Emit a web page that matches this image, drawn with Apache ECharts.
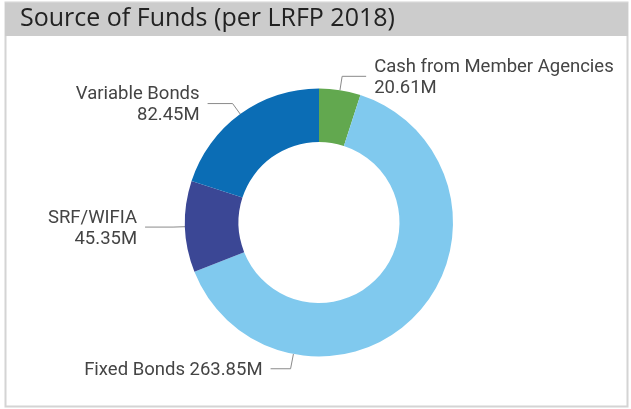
<!DOCTYPE html>
<html><head><meta charset="utf-8">
<script src="https://cdn.jsdelivr.net/npm/echarts@6/dist/echarts.min.js"></script>
<style>html,body{margin:0;padding:0;background:#fff}#c{width:631px;height:409px}</style>
</head><body><div id="c"></div>
<script>
const categories = ['Cash from Member Agencies', 'Fixed Bonds', 'SRF/WIFIA', 'Variable Bonds'];
const values = [20.61, 263.85, 45.35, 82.45];
const colors = ['#62a84f', '#80c9ee', '#3b4795', '#0b6db5'];
const titleText = 'Source of Funds (per LRFP 2018)';

const CX = 319, CY = 222.5, R0 = 80.5, R1 = 134;
const total = values.reduce((a, b) => a + b, 0);
const midAngles = [];
{ let acc = 0; values.forEach(v => { midAngles.push((acc + v / 2) / total * 360); acc += v; }); }
// label-line settings per item: [anchorAngle override or null, len1, len2, side, textDy]
const lineCfg = [
  [null, 14, 24, 1, 2],
  [191, 15, 20, -1, 2],
  [null, 12, 28, -1, 2],
  [null, 13, 25, -1, 1]
];

const chart = echarts.init(document.getElementById('c'), null, {renderer: 'canvas'});
chart.setOption({
  animation: false,
  graphic: [
    {type: 'rect', shape: {x: 5.5, y: 2.5, width: 622, height: 404}, style: {fill: '#fff', stroke: '#d4d4d4', lineWidth: 2}, z: 0},
    {type: 'rect', shape: {x: 5, y: 3, width: 623, height: 33}, style: {fill: '#cccccc'}, z: 1}
  ],
  title: {
    text: titleText, left: 15, top: 1,
    textStyle: {fontFamily: 'Open Sans', fontSize: 25, fontWeight: 'normal', color: '#222'}
  },
  series: [{
    type: 'pie',
    center: [CX, CY],
    radius: [R0, R1],
    startAngle: 90,
    clockwise: true,
    silent: true,
    emphasis: {disabled: true},
    data: categories.map((n, i) => ({name: n, value: values[i], itemStyle: {color: colors[i]}})),
    label: {
      show: true,
      position: 'outside',
      overflow: 'none',
      fontFamily: 'Roboto',
      fontSize: 18.5,
      lineHeight: 21,
      color: '#444',
      formatter: p => p.dataIndex === 1 ? p.name + ' ' + p.value.toFixed(2) + 'M' : p.name + '\n' + p.value.toFixed(2) + 'M'
    },
    labelLine: {show: true, lineStyle: {color: '#8a8a8a', width: 1}},
    labelLayout: function (params) {
      const i = params.dataIndex;
      const cfg = lineCfg[i];
      const ang = (cfg[0] !== null ? cfg[0] : midAngles[i]) * Math.PI / 180;
      const sx = Math.sin(ang), sy = -Math.cos(ang);
      const p0 = [CX + R1 * sx, CY + R1 * sy];
      const p1 = [p0[0] + cfg[1] * sx, p0[1] + cfg[1] * sy];
      const p2 = [p1[0] + cfg[3] * cfg[2], p1[1]];
      return {
        x: p2[0] + cfg[3] * 8,
        y: p2[1] + cfg[4],
        align: cfg[3] > 0 ? 'left' : 'right',
        verticalAlign: 'middle',
        labelLinePoints: [p0, p1, p2]
      };
    }
  }]
});
</script></body></html>
